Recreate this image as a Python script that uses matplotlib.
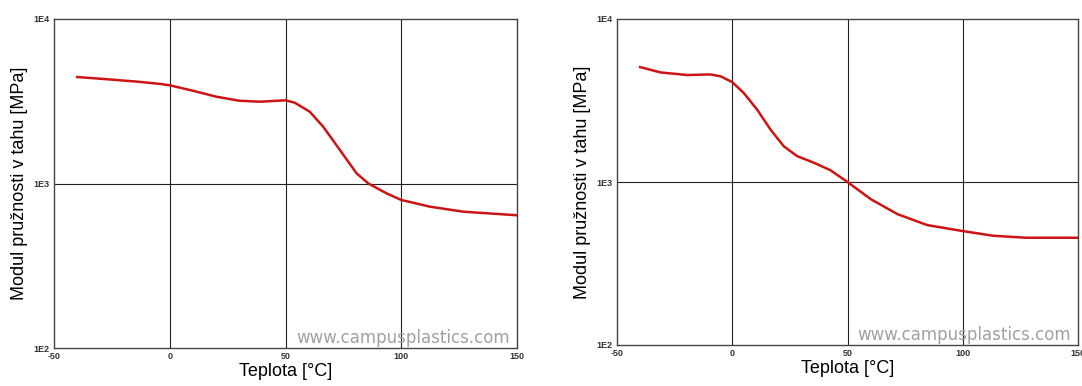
import numpy as np
import matplotlib
matplotlib.use("Agg")
import matplotlib.pyplot as plt

# left chart: modulus vs temperature
temp_left = [-40, -25, -14, -4, 0, 10, 20, 30, 39, 50, 54, 60.5, 66.3, 73.5, 80.7, 85.8,
             93.7, 100, 112.4, 126.8, 150]
mod_left = [4440, 4280, 4160, 4027, 3954, 3664, 3373, 3186, 3142, 3205, 3099, 2731, 2213, 1599, 1153, 1000,
            871, 794, 723, 674, 641]

# right chart
temp_right = [-40, -31, -19.5, -9.4, -5, 0, 5, 10.8, 16.6, 22.3, 28.1, 35.3, 42.5, 50,
              60.2, 71.7, 84.6, 100, 113.2, 127.6, 150]
mod_right = [5070, 4699, 4532, 4570, 4446, 4102, 3516, 2780, 2098, 1660, 1442, 1315, 1183, 1000,
             783, 635, 544, 500, 468, 455, 455]

x_ticks = [-50, 0, 50, 100, 150]
y_ticks = [1e2, 1e3, 1e4]
y_tick_labels = ["1E2", "1E3", "1E4"]

plt.rcParams['font.family'] = ['Liberation Sans', 'DejaVu Sans']

fig = plt.figure(figsize=(10.82, 3.86), dpi=100)
ax1 = fig.add_axes([54 / 1082, 1 - 348 / 386, 463 / 1082, 329 / 386])
ax2 = fig.add_axes([617 / 1082, 1 - 345 / 386, 461 / 1082, 326 / 386])


def style_axes(ax, xs, ys):
    ax.set_yscale('log')
    ax.set_xlim(-50, 150)
    ax.set_ylim(1e2, 1e4)
    for x in [0, 50, 100]:
        ax.axvline(x, color='#222222', lw=0.8, zorder=1)
    ax.axhline(1e3, color='#222222', lw=0.8, zorder=1)
    ax.plot(xs, ys, color='#cc1414', lw=1.8, zorder=3, solid_joinstyle='round')
    ax.set_xticks(x_ticks)
    ax.set_xticklabels([str(t) for t in x_ticks], fontsize=6.5, fontweight='bold', color='#333333')
    ax.set_yticks(y_ticks)
    ax.set_yticklabels(y_tick_labels, fontsize=6.5, fontweight='bold', color='#333333')
    ax.yaxis.set_minor_locator(matplotlib.ticker.NullLocator())
    ax.tick_params(length=0, pad=3)
    for s in ax.spines.values():
        s.set_color('#444444')
        s.set_linewidth(1.0)
    ax.set_xlabel("Teplota [°C]", fontsize=13, labelpad=1)
    ax.set_ylabel("Modul pružnosti v tahu [MPa]", fontsize=13, labelpad=4)
    ax.text(0.985, 0.016, "www.campusplastics.com", transform=ax.transAxes,
            ha='right', va='baseline', fontsize=12, color='#a0a0a0',
            family='DejaVu Sans', zorder=2)


style_axes(ax1, temp_left, mod_left)
style_axes(ax2, temp_right, mod_right)

fig.savefig("out.png", dpi=100)
